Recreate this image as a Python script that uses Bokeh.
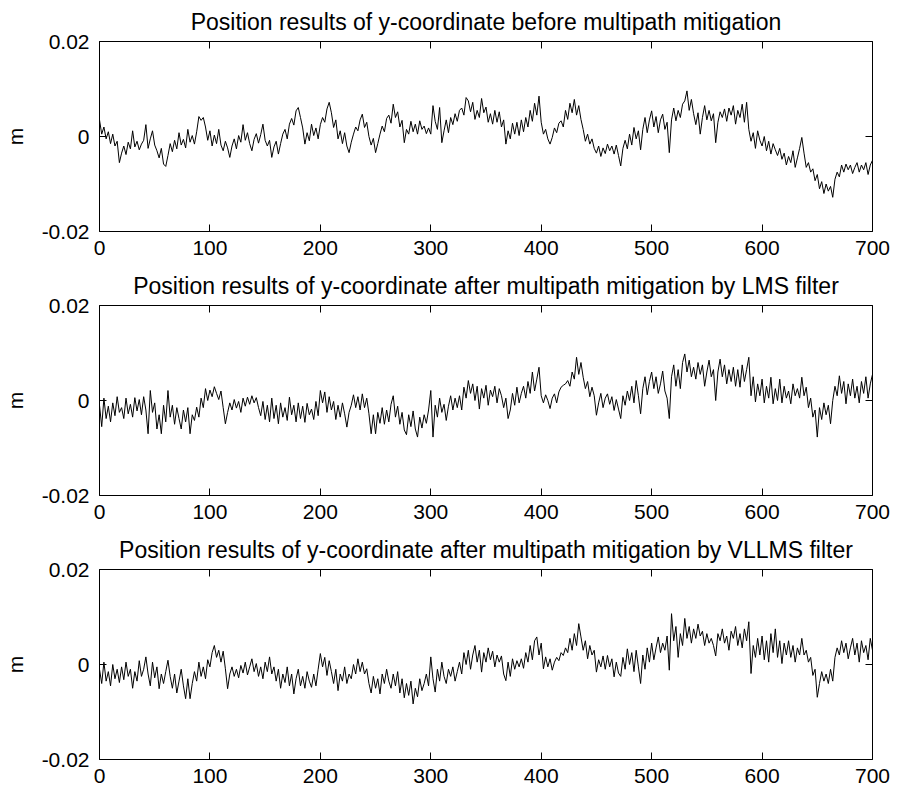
from bokeh.plotting import figure
from bokeh.models import Range1d, LinearAxis, FixedTicker
from bokeh.layouts import column
from bokeh.embed import file_html
from bokeh.resources import INLINE

# sample index (every second sample)
sample = list(range(0, 701, 2))

titles = [
    "Position results of y-coordinate before multipath mitigation",
    "Position results of y-coordinate after multipath mitigation by LMS filter",
    "Position results of y-coordinate after multipath mitigation by VLLMS filter",
]
y_label = "m"
xticks = [0, 100, 200, 300, 400, 500, 600, 700]
yticks = [-0.02, 0, 0.02]
ytick_labels = ["-0.02", "0", "0.02"]

# values in millimetres
before_mm = [
    3.5, 0.5, 2.0, -0.5, 1.0, -1.5, 0.5, -2.0, -1.0, -5.5,
    -3.5, -2.0, -3.8, -1.2, -2.6, 1.2, -2.2, -1.0, -2.8, -1.6,
    -0.8, 2.5, -2.5, -0.5, 1.2, -1.8, -3.0, -4.5, -2.5, -5.8,
    -6.3, -4.0, -1.5, -3.2, -0.8, -2.6, 0.8, -1.8, -0.6, -2.4,
    1.5, -1.2, 0.2, -1.6, 1.0, 4.2, 3.4, 4.0, 2.0, -0.8,
    1.2, -2.0, 0.3, -1.5, 1.5, -1.8, -3.0, -1.0, -2.4, -4.4,
    -2.0, -0.5, -2.6, 0.2, -1.2, 2.5, -0.8, 0.8, -1.5, -3.0,
    -0.6, 0.6, -1.4, 0.4, 2.6, -0.8, -2.0, -0.8, -4.4, -2.2,
    -1.0, -3.7, -1.5, 0.5, 1.5, -0.5, 2.6, 3.8, 2.4, 5.4,
    6.1, 4.0, 1.8, -1.6, 0.8, -0.9, 2.6, 0.2, 1.8, -0.5,
    2.5, 4.0, 3.0, 5.8, 7.2, 5.0, 1.9, 3.5, -0.5, 1.2,
    -1.5, 0.8, -2.0, -3.4, -1.2, 0.5, 2.0, 1.2, 3.5, 4.7,
    1.9, 3.0, 0.0, -1.8, -0.4, -3.4, -1.5, 0.5, 2.2, 1.0,
    3.8, 4.5, 2.8, 6.8, 4.0, 5.2, 2.0, 3.4, -1.3, 1.5,
    0.5, 3.2, 1.0, 2.6, 0.5, 3.3, 1.5, 2.2, 0.6, 1.8,
    0.5, 6.5, 3.2, 1.5, 6.1, -1.3, 1.2, 3.5, 0.8, 4.0,
    2.5, 4.8, 3.2, 5.5, 6.0, 4.5, 8.2, 7.5, 5.2, 7.2,
    3.6, 5.5, 4.0, 8.0, 5.0, 6.2, 3.0, 4.8, 2.6, 5.5,
    3.0, 5.2, 2.0, 3.5, -1.6, 1.2, -0.5, 2.8, 0.5, 3.0,
    0.2, 3.5, 1.0, 4.0, 2.0, 5.5, 3.2, 7.0, 4.5, 8.5,
    3.0, 0.5, 1.5, -0.5, -1.6, -0.2, 1.8, 0.8, 2.8, 3.3,
    2.0, 5.5, 3.6, 7.0, 5.0, 7.8, 4.5, 6.5, 3.6, 1.5,
    -1.0, 0.5, -1.6, -0.5, -2.5, -3.5, -2.0, -4.2, -2.4, -3.6,
    -1.6, -3.0, -2.0, -3.7, -1.8, -4.0, -6.2, -2.5, -0.8, -2.6,
    0.5, -1.8, 1.9, -0.5, 1.2, -2.8, 1.5, 4.0, 0.8, 3.5,
    5.4, 2.0, 4.2, 0.8, 3.5, 4.7, 1.5, 3.0, -3.4, 3.5,
    6.0, 3.3, 5.5, 4.0, 6.8, 7.5, 9.6, 5.5, 7.8, 4.8,
    2.5, 5.0, 0.5, 4.0, 6.5, 3.5, 5.5, 3.3, 4.8, -1.3,
    3.0, 5.2, 4.0, 5.8, 3.2, 6.0, 4.5, 6.5, 2.6, 5.5,
    4.0, 6.8, 3.0, 7.2, 1.5, -1.0, 0.8, -2.5, 1.2, -0.8,
    -2.0, 0.0, -3.0, -1.0, -3.7, -1.5, -2.8, -4.0, -2.5, -4.8,
    -3.5, -6.0, -4.2, -5.5, -3.0, -6.5, -4.5, -2.5, -0.2, -3.5,
    -6.5, -5.5, -7.5, -6.8, -9.3, -8.0, -11.0, -9.5, -12.0, -10.0,
    -11.5, -10.5, -12.8, -9.0, -7.5, -8.5, -6.0, -7.5, -5.8, -7.0,
    -6.0, -7.8, -6.5, -5.5, -7.5, -6.0, -7.0, -5.5, -8.0, -6.0, -5.0,
]

lms_mm = [
    -1.0, -5.5, 0.5, -3.8, -1.2, -4.5, -0.5, -3.2, 0.8, -2.5,
    -1.5, -3.8, 0.5, -2.8, -0.8, -3.5, 0.6, -2.2, 0.2, -3.0,
    0.8, -2.0, -7.0, 2.1, -2.5, -0.5, -6.0, -3.0, -7.0, -1.0,
    -4.5, 2.1, -3.5, -1.0, -5.0, -1.5, -3.8, -6.0, -2.0, -4.5,
    -1.5, -7.0, -3.0, -4.2, -1.4, -3.5, 0.5, -1.5, 2.5, 0.0,
    2.2, 0.8, 2.9, 1.5, 0.2, 2.0, -1.5, -4.9, -2.5, -0.5,
    -2.0, 0.2, -1.6, -0.2, -2.5, 0.5, -1.2, 0.7, -0.8, 1.0,
    -0.5, 0.6, -1.5, -3.2, -0.2, -4.0, -1.0, -4.5, 0.5, -3.8,
    -1.0, -4.9, -0.5, -3.5, -1.5, -4.2, 0.7, -3.0, -1.0, -4.5,
    -0.5, -3.8, -1.2, -4.6, -0.6, -3.0, -1.8, -4.0, -0.2, -3.2,
    2.1, -0.5, 1.8, -2.5, 0.8, -2.0, -0.2, -4.0, -1.0, -3.5,
    -0.5, -2.8, -5.6, -2.5, -1.0, 1.2, -1.5, 0.8, -2.0, 1.4,
    -1.5, 0.5, -2.8, -7.0, -3.0, -7.0, -2.5, -4.8, -1.5, -5.0,
    -2.0, -4.5, -0.8, 1.0, -3.5, -1.2, -5.0, -2.5, -6.2, -7.2,
    -3.0, -5.5, -2.2, -6.0, -7.7, -3.5, -5.8, -3.0, -4.8, -2.0,
    2.1, -7.7, -1.0, -3.5, 0.5, -2.5, -0.8, -4.2, -1.2, 1.0,
    -2.0, 0.5, -1.5, 1.0, -2.0, 2.8, 0.5, 4.2, 1.5, 3.5,
    0.0, 3.0, -1.8, 2.5, 0.5, 3.2, -1.0, 2.2, 0.8, 3.0,
    -0.5, 2.5, 1.0, -1.5, 0.5, -3.8, -2.0, 1.5, -1.0, 2.8,
    -0.5, 1.5, 3.0, 0.5, 4.0, 1.5, 6.0, 2.0, 4.5, 7.0,
    1.0, -0.5, 1.2, 0.0, -1.7, 0.5, 1.4, -0.5, 1.8, 2.8,
    3.2, 3.5, 4.2, 3.0, 6.0, 4.5, 9.1, 5.5, 8.0, 4.9,
    2.5, 4.0, 0.8, 2.8, 1.0, -3.1, -0.5, 1.5, -1.5, 0.5,
    1.4, -0.8, 0.8, -2.1, 0.2, -1.8, -3.8, 1.0, -1.0, 2.0,
    0.0, 3.0, -0.5, 4.2, 1.0, -2.8, 2.5, 5.0, 1.2, 4.0,
    6.0, 2.5, 5.0, 1.5, 3.5, 6.2, 2.0, 0.5, -3.8, 5.0,
    7.5, 3.0, 6.5, 2.5, 8.0, 9.8, 6.0, 8.5, 5.0, 7.0,
    4.5, 8.0, 5.5, 7.5, 3.0, 6.0, 8.5, 5.0, 6.5, 0.0,
    6.0, 8.7, 5.0, 7.5, 3.5, 6.5, 4.0, 7.0, 3.0, 6.5,
    2.8, 7.5, 4.0, 6.5, 9.1, 1.0, 5.0, -0.3, 3.5, 1.0,
    4.5, -0.5, 3.0, 0.5, 4.9, -0.7, 2.5, 0.0, 4.5, -0.5,
    3.0, 0.5, 2.0, -0.7, 3.5, 1.0, 2.5, 0.5, 4.9, 1.0,
    2.8, -1.5, 0.5, -3.5, -2.0, -7.7, -1.5, -4.0, -0.5, -3.0,
    -1.0, -4.9, 0.0, 3.0, 1.0, 5.2, 1.5, 4.0, -0.7, 3.5,
    1.0, 4.5, 0.5, 3.0, -0.5, 4.0, 1.5, 5.0, 0.5, 3.5, 5.5,
]

vllms_mm = [
    -1.0, -4.0, 0.5, -3.5, -1.5, -4.5, 0.0, -3.0, -1.0, -3.8,
    -0.5, -3.2, 0.5, -2.5, -1.0, -5.0, -1.5, -3.5, 0.8, -2.5,
    -1.0, 1.6, -2.0, -4.5, 0.5, -2.8, -0.5, -5.1, -2.0, -4.0,
    -1.5, 0.9, -2.5, -5.0, -2.0, -6.0, -3.5, -1.0, -4.5, -7.2,
    -3.0, -7.2, -4.0, -1.5, -3.5, 0.5, -2.5, -0.5, -3.0, 1.0,
    -0.5, 2.5, 4.0, 1.5, 3.0, 0.5, 2.8, -0.9, -5.1, -2.0,
    -0.5, -2.5, -1.0, -2.8, -0.2, -1.8, 0.5, -2.2, -0.5, 1.2,
    -1.5, 0.2, -2.5, -0.5, -3.0, 0.5, -1.5, 1.6, -2.0, -0.5,
    -3.5, -1.0, -5.0, -2.0, -3.8, -0.5, -4.5, -2.0, -6.2, -3.0,
    -1.0, -4.5, -2.5, -5.0, -1.5, -3.5, -4.8, -2.0, -4.5, -1.0,
    2.3, -0.5, 1.5, -2.3, 0.8, -1.5, -4.0, -1.0, -5.5, -2.0,
    -3.5, -0.5, -4.0, -2.0, -3.0, 0.0, -2.0, 1.2, -1.5, 0.5,
    -2.0, -0.9, -4.0, -6.0, -2.5, -5.0, -3.0, -6.2, -2.0, -4.0,
    -1.0, -3.5, -5.0, -2.0, -4.5, -1.5, -6.0, -3.0, -7.0, -4.0,
    -6.5, -3.5, -8.3, -5.0, -6.8, -3.0, -5.5, -4.0, -2.0, -4.5,
    1.6, -3.0, -5.8, -1.0, -3.5, 0.5, -2.5, -4.0, -1.0, -2.5,
    -0.5, -3.5, -1.5, 0.5, -2.0, 2.5, 0.0, 3.0, -1.0, 2.0,
    4.0, 0.5, 3.0, -1.6, 2.5, 0.5, 3.5, 1.0, 2.8, -0.5,
    2.0, 0.5, 1.8, -2.0, -3.4, 0.5, -2.5, 1.2, -1.0, 0.8,
    -0.5, 1.2, -0.8, 2.5, 0.5, 4.0, 1.0, 5.0, 5.8, 2.0,
    4.5, -0.9, 1.6, -0.5, 1.2, -1.2, 0.5, 1.5, 0.8, 2.5,
    1.9, 3.5, 2.5, 5.5, 3.0, 6.5, 4.0, 8.6, 5.8, 3.0,
    5.0, 1.2, 4.0, 2.0, 3.0, -1.6, 1.0, -0.5, 1.8, -1.0,
    1.9, -0.5, 1.2, -2.6, 0.5, -1.8, -2.5, 1.5, -1.0, 3.3,
    0.0, 2.5, -1.5, 3.0, -0.5, -4.0, 2.0, -1.0, 3.5, 0.5,
    4.5, 1.0, 3.5, 5.8, 2.5, 4.5, 3.0, 6.0, -1.2, 10.7,
    5.0, 8.0, 1.5, 6.5, 4.0, 9.7, 5.5, 8.0, 4.5, 7.5,
    5.5, 8.5, 6.0, 7.0, 4.0, 6.5, 4.5, 5.5, 4.0, 1.8,
    6.5, 5.0, 7.5, 4.5, 6.0, 3.0, 7.0, 5.5, 8.0, 4.0,
    6.5, 3.5, 7.5, 5.0, 9.0, -1.9, 4.0, 1.5, 5.5, 2.0,
    6.0, 1.0, 5.0, 0.5, 6.5, 2.5, 7.5, 1.5, 5.0, 0.2,
    4.5, 2.0, 5.0, 1.5, 4.0, 0.5, 3.5, 2.0, 5.5, 2.0,
    3.0, 0.5, 1.5, -2.3, -1.0, -6.9, -4.0, -1.5, -3.5, -2.0,
    -4.0, -1.0, -3.5, 1.5, 3.5, 2.0, 5.0, 2.5, 4.5, 1.2,
    3.5, 5.5, 2.0, 4.5, 0.5, 5.0, 2.5, 4.0, 1.0, 5.5, 3.0,
]

series_mm = [before_mm, lms_mm, vllms_mm]
for s in series_mm:
    assert len(s) == len(sample), len(s)

FONT = "Liberation Sans"
TICK_PX = "21px"
TITLE_PX = "23px"


def style_axis(ax, ticks, show_labels):
    ax.ticker = FixedTicker(ticks=ticks)
    ax.axis_line_color = None
    ax.major_tick_in = 7
    ax.major_tick_out = 0
    ax.major_tick_line_color = "black"
    ax.major_tick_line_width = 1
    ax.minor_tick_line_color = None
    ax.major_label_text_font = FONT
    if show_labels:
        ax.major_label_text_color = "black"
        ax.major_label_text_font_size = TICK_PX
        ax.major_label_standoff = 9
    else:
        # tick marks only: no labels drawn on the top / right sides
        ax.major_label_text_color = None
        ax.major_label_text_font_size = "1px"
        ax.major_label_standoff = 0


def make_panel(title, values_mm):
    p = figure(
        frame_width=773, frame_height=190,
        x_range=Range1d(0, 700), y_range=Range1d(-0.02, 0.02),
        output_backend="svg", toolbar_location=None,
        min_border_left=92, min_border_right=18,
        min_border_top=41, min_border_bottom=33,
        background_fill_color="white", border_fill_color="white",
        outline_line_color="black", outline_line_width=1,
    )
    p.add_layout(LinearAxis(), "above")
    p.add_layout(LinearAxis(), "right")
    p.grid.visible = False

    style_axis(p.below[0], xticks, True)
    style_axis(p.above[0], xticks, False)
    style_axis(p.left[0], yticks, True)
    style_axis(p.right[0], yticks, False)
    p.left[0].major_label_standoff = 10
    p.left[0].major_label_overrides = {t: s for t, s in zip(yticks, ytick_labels)}
    p.left[0].axis_label = y_label
    p.left[0].axis_label_text_font = FONT
    p.left[0].axis_label_text_font_size = TICK_PX
    p.left[0].axis_label_text_font_style = "normal"
    p.left[0].axis_label_text_color = "black"
    p.left[0].axis_label_standoff = 12

    p.title.text = title
    p.title.align = "center"
    p.title.text_font = FONT
    p.title.text_font_size = TITLE_PX
    p.title.text_font_style = "normal"
    p.title.text_color = "black"
    p.title.standoff = 13

    yvals = [v * 1e-3 for v in values_mm]
    p.line(sample, yvals, line_color="black", line_width=1)
    return p


panels = [make_panel(t, s) for t, s in zip(titles, series_mm)]
layout = column(*panels, spacing=0)

open("out.html", "w").write(file_html(layout, INLINE))
